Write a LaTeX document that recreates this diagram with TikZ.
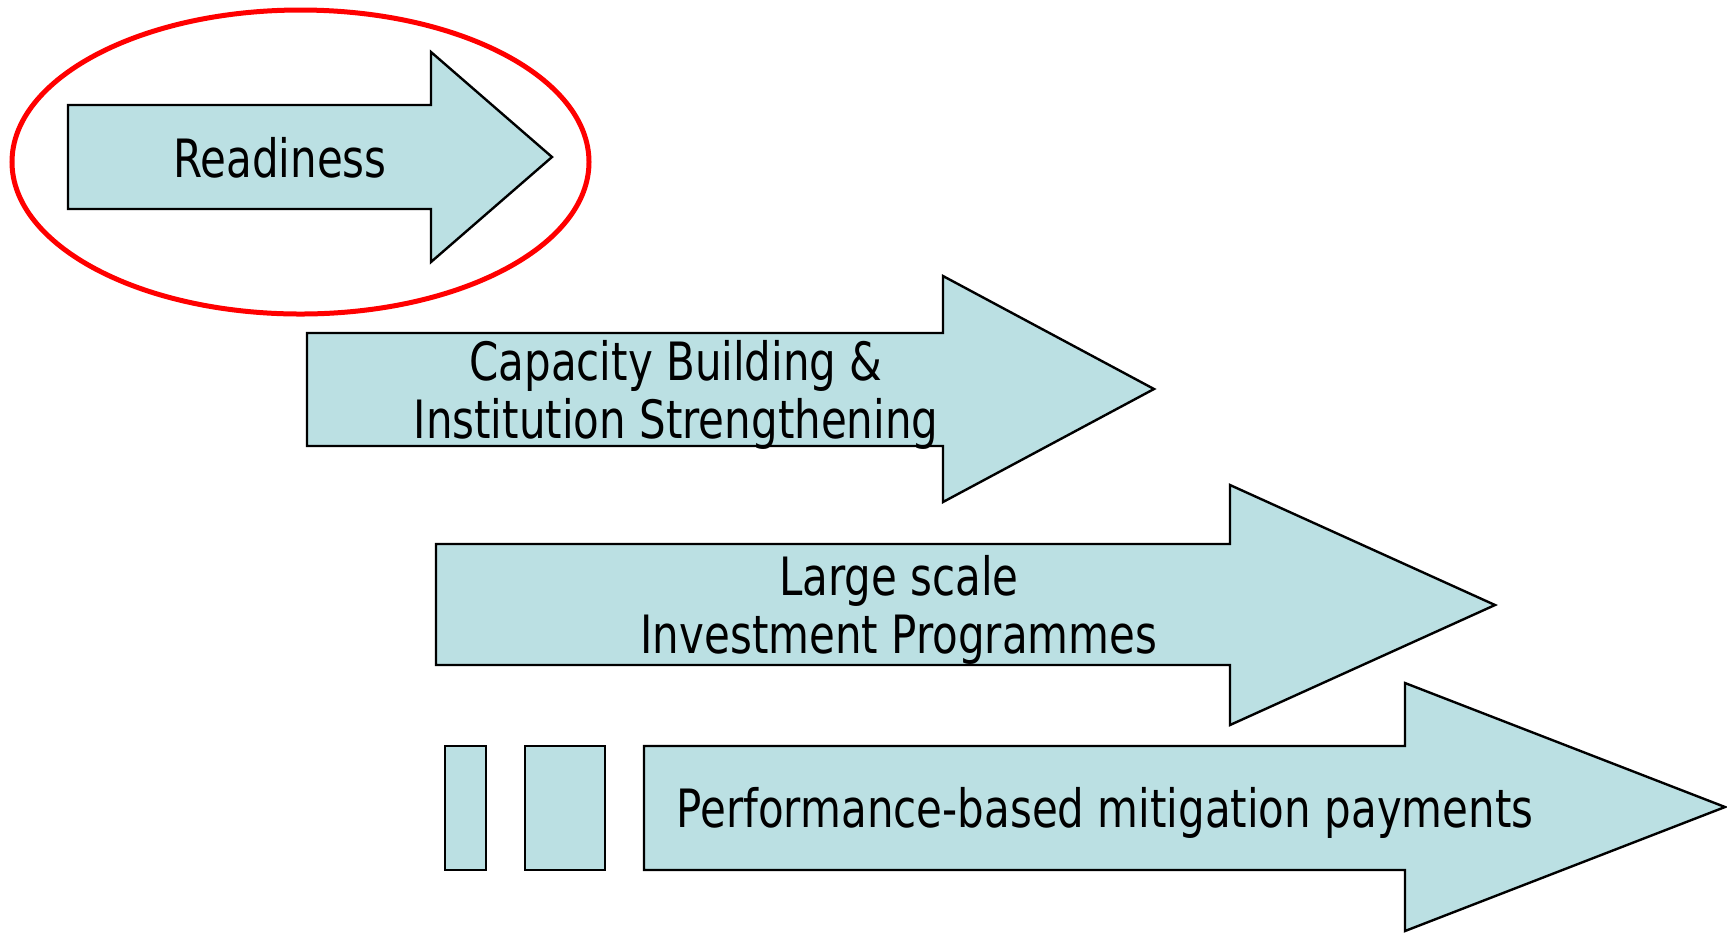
\documentclass[tikz,border=0pt]{standalone}
\usepackage{fontspec}
\setmainfont{DejaVu Sans}[FakeStretch=0.795]
\usetikzlibrary{shapes.geometric}
\definecolor{phaseblue}{RGB}{187,224,227}
\tikzstyle{phase} = [draw=black, line width=1.2pt, fill=phaseblue]
\tikzstyle{phasetext} = [align=center, inner sep=0pt, font=\fontsize{26.4}{29}\selectfont]
\tikzstyle{focus} = [ellipse, draw=red, line width=2.5pt, inner sep=0pt, minimum width=288.5pt, minimum height=152pt]

\begin{document}
\begin{tikzpicture}[x=0.5pt, y=-0.5pt]
    \useasboundingbox (0,0) rectangle (1727,934);

    % phase arrows
    \draw [phase] (68,105) -- (431,105) -- (431,52) -- (552,157) -- (431,262) -- (431,209) -- (68,209) -- cycle;
    \draw [phase] (307,333) -- (943,333) -- (943,276) -- (1154,389) -- (943,502) -- (943,446) -- (307,446) -- cycle;
    \draw [phase] (436,544) -- (1230,544) -- (1230,485) -- (1495,605) -- (1230,725) -- (1230,665) -- (436,665) -- cycle;
    \draw [phase] (644,746) -- (1405,746) -- (1405,683) -- (1725,807) -- (1405,931) -- (1405,870) -- (644,870) -- cycle;

    % blocks before the last arrow
    \draw [phase] (445,746) rectangle (486,870);
    \draw [phase] (525,746) rectangle (605,870);

    \node (readiness) [phasetext] at (280,158) {Readiness};
    \node (capacity) [phasetext] at (676,395) {Capacity Building \&\\Institution Strengthening};
    \node (investment) [phasetext] at (899,610) {Large scale\\Investment Programmes};
    \node (payments) [phasetext] at (1105,813) {Performance-based mitigation payments};

    \node (circled) [focus] at (300.5,162) {};

\end{tikzpicture}
\end{document}
